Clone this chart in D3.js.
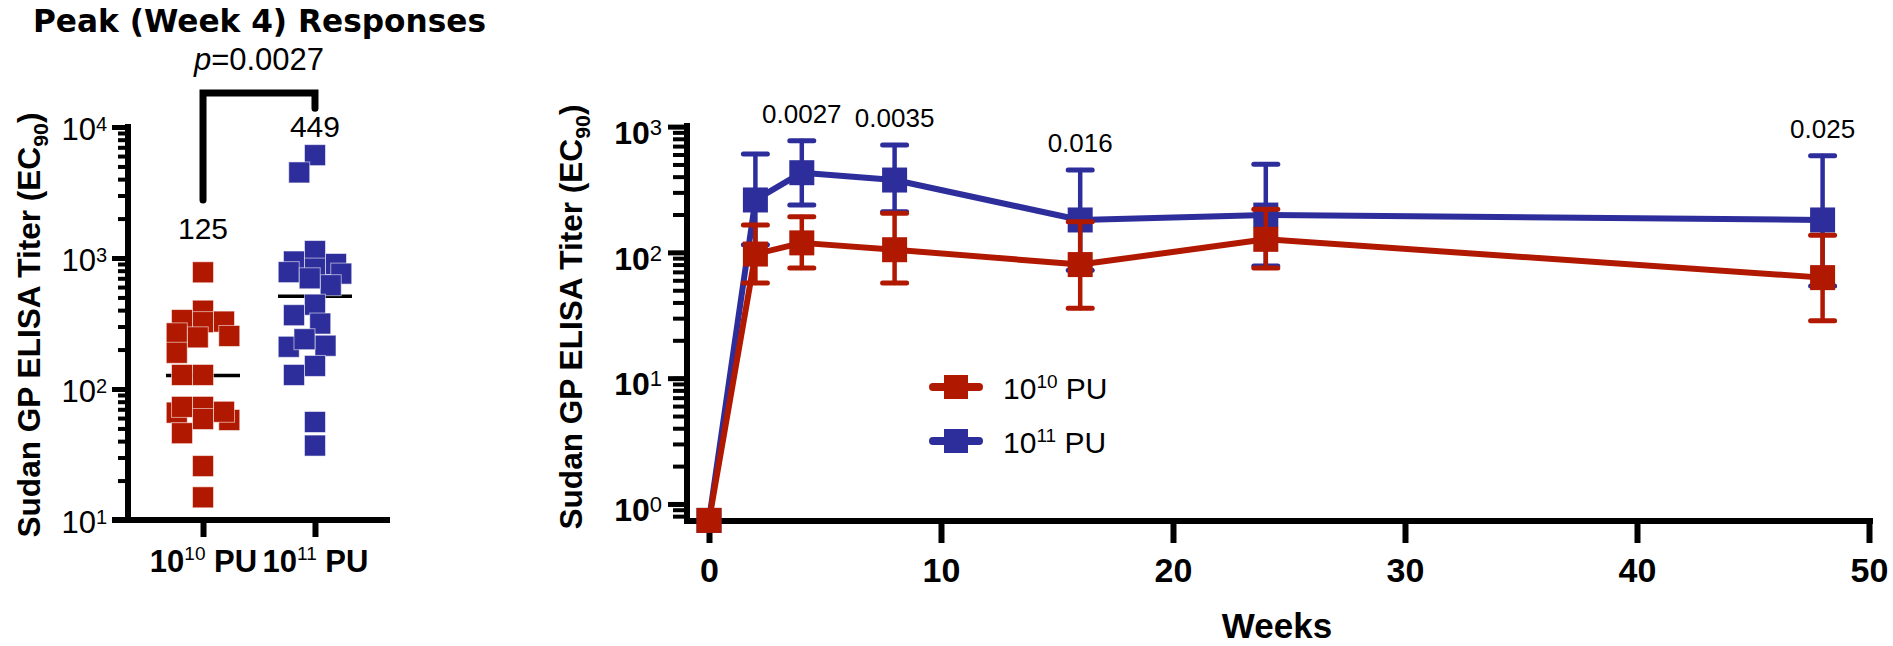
<!DOCTYPE html>
<html>
<head>
<meta charset="utf-8">
<script src="https://cdn.jsdelivr.net/npm/d3@7"></script>
<style>
  body { margin: 0; background: #fff; }
  text { font-family: "Liberation Sans", Arial, sans-serif; fill: #000; }
</style>
</head>
<body>
<div id="chart-container"></div>
<script>
// ---- data ----
const groups = ["10", "11"]; // exponents of the dose, "10^x PU"
const peakLow = [778, 396, 324, 336, 327, 248, 254, 266, 189, 128, 128, 66, 58, 73, 67, 59, 73, 46, 25.8, 14.9];
const peakHigh = [6100, 4500, 1130, 940, 780, 830, 900, 760, 620, 440, 366, 316, 214, 210, 240, 150, 128, 56, 37, 700];
const peakLines = [127, 510];
const peakLabels = ["125", "449"];
const peakLabelAt = [1400, 8400];
const bracketEnds = [2770, 13900];
const bracketTop = 18200;
const peakP = "0.0027";

const weeks = [0, 2, 4, 8, 16, 24, 48];
const lowMean = [0.74, 97, 119, 105, 80, 127, 63];
const lowUpper = [0.74, 165, 192, 205, 175, 220, 137];
const lowLower = [0.74, 57, 75, 57, 36, 75, 28.6];
const highMean = [0.74, 261, 430, 376, 181, 198, 181];
const highUpper = [0.74, 606, 773, 714, 452, 501, 587];
const highLower = [0.74, 115, 238, 210, 72, 78, 54];
const pWeeks = [4, 8, 16, 48];
const pValues = ["0.0027", "0.0035", "0.016", "0.025"];
const weekTicks = [0, 10, 20, 30, 40, 50];

const RED = "#b11800";
const BLUE = "#2d2e9b";

let width = 1893;
let height = 646;

var svg = d3
  .select("#chart-container")
  .append("svg")
  .attr("width", width)
  .attr("height", height);

// ================= left panel: peak responses =================
let xL = d3.scalePoint().domain(groups).range([128, 390]).padding(0.67);
let yL = d3.scaleLog().domain([10, 10000]).range([520, 127]);

svg
  .append("text")
  .attr("x", 33)
  .attr("y", 32)
  .attr("textLength", 453)
  .attr("lengthAdjust", "spacingAndGlyphs")
  .style("font-family", "'DejaVu Sans', Verdana, sans-serif")
  .style("font-weight", "bold")
  .style("font-size", "32px")
  .text("Peak (Week 4) Responses");

// minor ticks
svg
  .append("g")
  .attr("transform", "translate(128,0)")
  .call(d3.axisLeft(yL).tickValues(yL.ticks()).tickSize(10).tickFormat(""))
  .call((g) => g.select(".domain").remove())
  .selectAll("line")
  .attr("stroke-width", 4);

// major ticks + labels
let yLaxis = svg
  .append("g")
  .attr("transform", "translate(128,0)")
  .call(
    d3.axisLeft(yL).tickValues([10, 100, 1000, 10000]).tickSize(16).tickPadding(5).tickFormat("")
  );
yLaxis.select(".domain").remove();
yLaxis.selectAll("line").attr("stroke-width", 5);
yLaxis.selectAll(".tick text").each(function (d) {
  let t = d3.select(this).attr("dy", "0.4em").style("font-size", "31px");
  t.append("tspan").text("10");
  t.append("tspan").attr("dy", -9).style("font-size", "20px").text(Math.round(Math.log10(d)));
});

// axis lines
svg.append("line").attr("x1", 128).attr("x2", 128).attr("y1", 124).attr("y2", 520)
  .attr("stroke", "#000").attr("stroke-width", 6);
svg.append("line").attr("x1", 112).attr("x2", 390).attr("y1", 520).attr("y2", 520)
  .attr("stroke", "#000").attr("stroke-width", 6);

// x axis of the left panel
let xLaxis = svg
  .append("g")
  .attr("transform", "translate(0,520)")
  .call(d3.axisBottom(xL).tickSize(17).tickPadding(13).tickFormat(""));
xLaxis.select(".domain").remove();
xLaxis.selectAll("line").attr("stroke-width", 6);
xLaxis.selectAll(".tick text").each(function (d) {
  let t = d3.select(this).style("font-size", "31px").style("font-weight", "bold");
  t.append("tspan").text("10");
  t.append("tspan").attr("dy", -12).style("font-size", "19px").style("font-weight", "normal").text(d);
  t.append("tspan").attr("dy", 12).text(" PU");
});

function yTitle(x, y) {
  svg
    .append("text")
    .attr("transform", "translate(" + x + "," + y + ") rotate(-90)")
    .attr("textLength", 425)
    .attr("lengthAdjust", "spacingAndGlyphs")
    .style("text-anchor", "middle")
    .style("font-size", "31px")
    .style("font-weight", "bold")
    .call((t) => {
      t.append("tspan").text("Sudan GP ELISA Titer (EC");
      t.append("tspan").attr("dy", 8).style("font-size", "21px").text("90");
      t.append("tspan").attr("dy", -8).text(")");
    });
}
yTitle(40, 325);

// column scatter: shift squares sideways in quarter-marker steps, some overlap allowed
function swarm(values, w) {
  let offs = [0];
  for (let k = 1; k <= 5; k++) offs.push((-k * w) / 4, (k * w) / 4);
  let placed = [];
  let out = new Array(values.length);
  values
    .map((v, i) => i)
    .sort((a, b) => values[b] - values[a])
    .forEach((i) => {
      let y = yL(values[i]);
      let best = null;
      let bestScore = Infinity;
      for (const o of offs) {
        let score = d3.sum(placed, (p) =>
          Math.max(0, w - Math.abs(p.x - o)) * Math.max(0, w - Math.abs(p.y - y))
        );
        if (score < 0.08 * w * w) { best = o; break; }
        if (score < bestScore) { bestScore = score; best = o; }
      }
      placed.push({ x: best, y: y });
      out[i] = best;
    });
  return out;
}

const msz = 21;
[peakLow, peakHigh].forEach((vals, gi) => {
  let cx = xL(groups[gi]);
  // mean line (under squares)
  svg
    .append("line")
    .attr("x1", cx - 37)
    .attr("x2", cx + 37)
    .attr("y1", yL(peakLines[gi]))
    .attr("y2", yL(peakLines[gi]))
    .attr("stroke", "#000")
    .attr("stroke-width", 3.5);

  let offs = swarm(vals, msz);
  svg
    .append("g")
    .selectAll("rect")
    .data(vals)
    .enter()
    .append("rect")
    .attr("x", (d, i) => cx + offs[i] - msz / 2)
    .attr("y", (d) => yL(d) - msz / 2)
    .attr("width", msz)
    .attr("height", msz)
    .style("fill", gi === 0 ? RED : BLUE)
    .style("stroke", "#fff")
    .style("stroke-opacity", 0.55)
    .style("stroke-width", 1);

  svg
    .append("text")
    .attr("x", cx)
    .attr("y", yL(peakLabelAt[gi]))
    .style("text-anchor", "middle")
    .style("font-size", "30px")
    .text(peakLabels[gi]);
});

// significance bracket
let bx0 = xL(groups[0]);
let bx1 = xL(groups[1]);
svg
  .append("path")
  .attr(
    "d",
    d3.line()([
      [bx0, yL(bracketEnds[0])],
      [bx0, yL(bracketTop)],
      [bx1, yL(bracketTop)],
      [bx1, yL(bracketEnds[1])],
    ])
  )
  .attr("fill", "none")
  .attr("stroke", "#000")
  .attr("stroke-width", 7)
  .attr("stroke-linecap", "round");

svg
  .append("text")
  .attr("x", (bx0 + bx1) / 2)
  .attr("y", 70)
  .style("text-anchor", "middle")
  .style("font-size", "31px")
  .call((t) => {
    t.append("tspan").style("font-style", "italic").text("p");
    t.append("tspan").text("=" + peakP);
  });

// ================= right panel: time course =================
let xR = d3.scaleLinear().domain([0, 50]).range([709, 1869]);
let yR = d3.scaleLog().domain([0.732, 1000]).range([521, 126.6]);

svg
  .append("g")
  .attr("transform", "translate(687,0)")
  .call(d3.axisLeft(yR).tickValues(yR.ticks()).tickSize(14).tickFormat(""))
  .call((g) => g.select(".domain").remove())
  .selectAll("line")
  .attr("stroke-width", 4);

let yRaxis = svg
  .append("g")
  .attr("transform", "translate(687,0)")
  .call(d3.axisLeft(yR).tickValues([1, 10, 100, 1000]).tickSize(19).tickPadding(6).tickFormat(""));
yRaxis.select(".domain").remove();
yRaxis.selectAll("line").attr("stroke-width", 5);
yRaxis.selectAll(".tick text").each(function (d) {
  let t = d3.select(this).attr("dy", "0.52em").style("font-size", "32px").style("font-weight", "bold");
  t.append("tspan").text("10");
  t.append("tspan").attr("dy", -9).style("font-size", "22px").style("font-weight", "normal").text(Math.round(Math.log10(d)));
});

svg.append("line").attr("x1", 687).attr("x2", 687).attr("y1", 123).attr("y2", 521)
  .attr("stroke", "#000").attr("stroke-width", 6);
svg.append("line").attr("x1", 684).attr("x2", 1873).attr("y1", 521).attr("y2", 521)
  .attr("stroke", "#000").attr("stroke-width", 6);

let xRaxis = svg
  .append("g")
  .attr("transform", "translate(0,521)")
  .call(d3.axisBottom(xR).tickValues(weekTicks).tickSize(22).tickPadding(15));
xRaxis.select(".domain").remove();
xRaxis.selectAll("line").attr("stroke-width", 6);
xRaxis.selectAll("text").style("font-size", "34px").style("font-weight", "bold").style("fill", "#000");

svg
  .append("text")
  .attr("x", 1277)
  .attr("y", 638)
  .style("text-anchor", "middle")
  .style("font-size", "35px")
  .style("font-weight", "bold")
  .text("Weeks");

yTitle(582, 317);

let series = [
  { color: BLUE, mean: highMean, upper: highUpper, lower: highLower },
  { color: RED, mean: lowMean, upper: lowUpper, lower: lowLower },
];

let line = d3
  .line()
  .x((d) => xR(d.w))
  .y((d) => yR(d.m));

series.forEach((s) => {
  let pts = weeks.map((w, i) => ({ w: w, m: s.mean[i], u: s.upper[i], l: s.lower[i] }));
  let g = svg.append("g");

  g.append("path")
    .datum(pts)
    .attr("d", line)
    .attr("fill", "none")
    .attr("stroke", s.color)
    .attr("stroke-width", 6)
    .attr("stroke-linejoin", "round");

  let eb = g
    .selectAll(".err")
    .data(pts.filter((d) => d.u !== d.l))
    .enter()
    .append("g")
    .attr("stroke", s.color)
    .attr("stroke-linecap", "round");
  eb.append("line")
    .attr("x1", (d) => xR(d.w))
    .attr("x2", (d) => xR(d.w))
    .attr("y1", (d) => yR(d.u))
    .attr("y2", (d) => yR(d.l))
    .attr("stroke-width", 4.5);
  [(d) => d.u, (d) => d.l].forEach((f) => {
    eb.append("line")
      .attr("x1", (d) => xR(d.w) - 12)
      .attr("x2", (d) => xR(d.w) + 12)
      .attr("y1", (d) => yR(f(d)))
      .attr("y2", (d) => yR(f(d)))
      .attr("stroke-width", 5);
  });

  g.selectAll(".sq")
    .data(pts)
    .enter()
    .append("rect")
    .attr("x", (d) => xR(d.w) - 12.5)
    .attr("y", (d) => yR(d.m) - 12.5)
    .attr("width", 25)
    .attr("height", 25)
    .attr("fill", s.color);
});

// p values above the time points
svg
  .append("g")
  .selectAll("text")
  .data(pWeeks)
  .enter()
  .append("text")
  .attr("x", (d) => xR(d))
  .attr("y", (d) => yR(highUpper[weeks.indexOf(d)]) - 18)
  .style("text-anchor", "middle")
  .style("font-size", "26px")
  .text((d, i) => pValues[i]);

// legend
let legend = svg
  .append("g")
  .selectAll("g")
  .data([
    { c: RED, e: groups[0] },
    { c: BLUE, e: groups[1] },
  ])
  .enter()
  .append("g")
  .attr("transform", (d, i) => "translate(956," + (387 + i * 54) + ")");
legend
  .append("line")
  .attr("x1", -23)
  .attr("x2", 23)
  .attr("stroke", (d) => d.c)
  .attr("stroke-width", 8)
  .attr("stroke-linecap", "round");
legend
  .append("rect")
  .attr("x", -12)
  .attr("y", -12)
  .attr("width", 24)
  .attr("height", 24)
  .attr("fill", (d) => d.c);
legend
  .append("text")
  .attr("x", 47)
  .attr("dy", "0.4em")
  .style("font-size", "30px")
  .call((t) => {
    t.append("tspan").text("10");
    t.append("tspan").attr("dy", -11).style("font-size", "19px").text((d) => d.e);
    t.append("tspan").attr("dy", 11).text(" PU");
  });
</script>
</body>
</html>
